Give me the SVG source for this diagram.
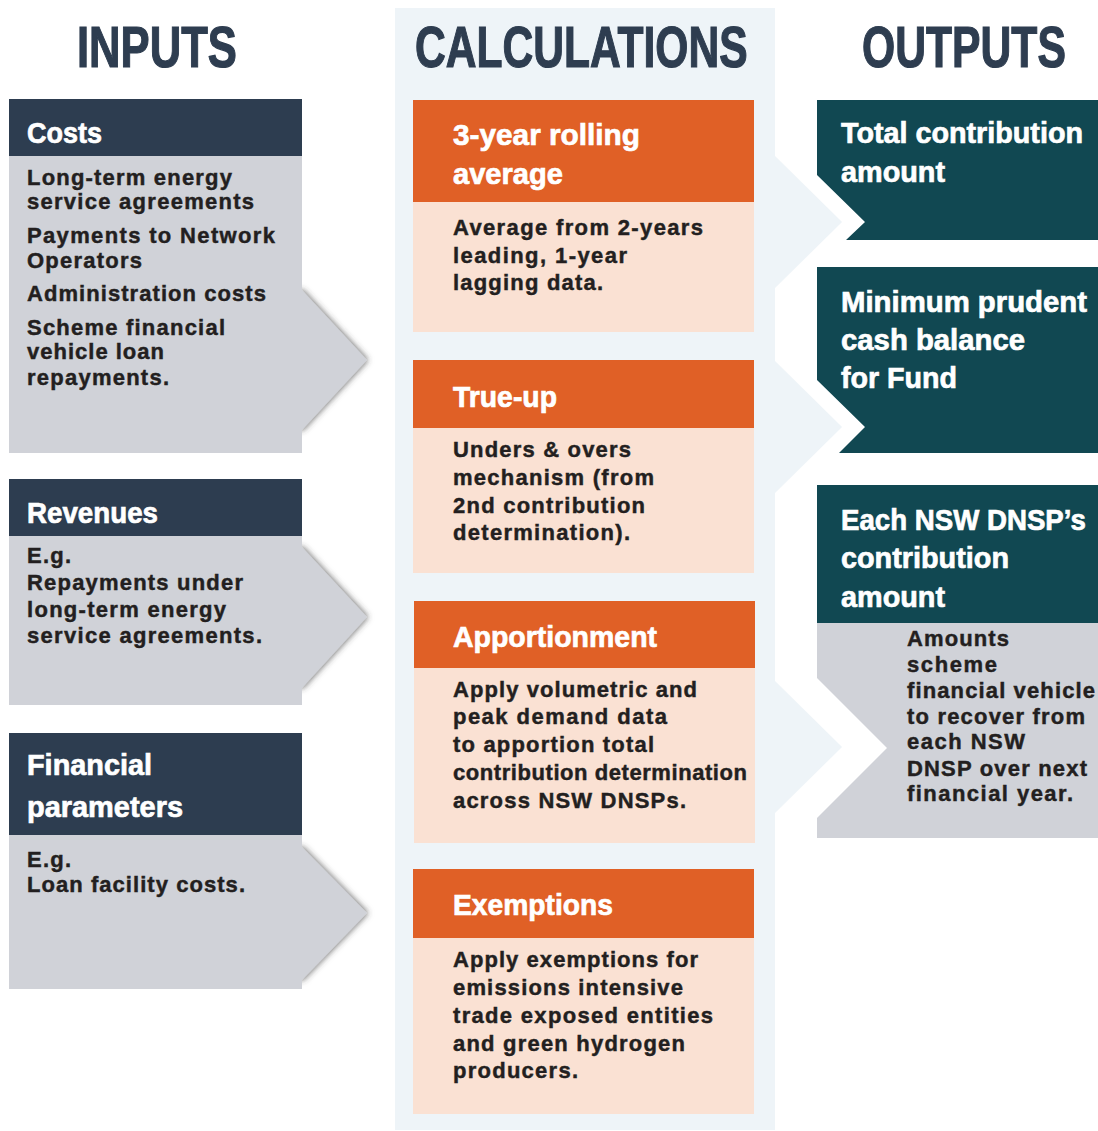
<svg xmlns="http://www.w3.org/2000/svg" width="1098" height="1131" viewBox="0 0 1098 1131">
<defs>
<style>
.title{font-family:"Liberation Sans",Arial,sans-serif;font-weight:bold;font-size:58px;fill:#2e3d50;stroke:#2e3d50;stroke-width:1.2px}
.h{font-family:"Liberation Sans",Arial,sans-serif;font-weight:bold;font-size:30px;fill:#ffffff;stroke:#ffffff;stroke-width:0.7px}
.t{font-family:"Liberation Sans",Arial,sans-serif;font-weight:bold;font-size:22px;fill:#231f20;stroke:#231f20;stroke-width:0.45px}
.navy{fill:#2d3d50}
.gray{fill:#d0d2d8}
.orange{fill:#e06026}
.peach{fill:#fae1d3}
.teal{fill:#114852}
.panel{fill:#eef4f8}
</style>
<filter id="sh" x="-50%" y="-50%" width="200%" height="200%">
<feDropShadow dx="1" dy="0" stdDeviation="3" flood-color="#3a3a3a" flood-opacity="0.75"/>
</filter>
</defs>
<rect width="1098" height="1131" fill="#ffffff"/>

<g id="calc-panel">
<rect class="panel" x="395" y="8" width="380" height="1122"/>
<polygon class="panel" points="774,155 842,222 774,289"/>
<polygon class="panel" points="774,360 842,427 774,494"/>
<polygon class="panel" points="774,680 842,747 774,814"/>
</g>

<g id="titles">
<text class="title" transform="translate(77,67) scale(0.752,1)">INPUTS</text>
<text class="title" transform="translate(415,67) scale(0.734,1)">CALCULATIONS</text>
<text class="title" transform="translate(862,67) scale(0.736,1)">OUTPUTS</text>
</g>

<g id="connectors">
<polygon class="gray" points="290,290 302,290 367,360 302,430 290,430" filter="url(#sh)"/>
<polygon class="gray" points="290,547 302,547 367,617 302,688 290,688" filter="url(#sh)"/>
<polygon class="gray" points="290,847 302,847 367,913 302,980 290,980" filter="url(#sh)"/>
</g>

<g id="costs">
<rect class="gray" x="9" y="156" width="293" height="297"/>
<rect class="navy" x="9" y="99" width="293" height="57"/>
<text class="h" x="27" y="143" textLength="75" lengthAdjust="spacingAndGlyphs">Costs</text>
<text class="t" x="27" y="185" textLength="205" lengthAdjust="spacing">Long-term energy</text>
<text class="t" x="27" y="209" textLength="227" lengthAdjust="spacing">service agreements</text>
<text class="t" x="27" y="243" textLength="248" lengthAdjust="spacing">Payments to Network</text>
<text class="t" x="27" y="268" textLength="115" lengthAdjust="spacing">Operators</text>
<text class="t" x="27" y="301" textLength="239" lengthAdjust="spacing">Administration costs</text>
<text class="t" x="27" y="335" textLength="198" lengthAdjust="spacing">Scheme financial</text>
<text class="t" x="27" y="359" textLength="137" lengthAdjust="spacing">vehicle loan</text>
<text class="t" x="27" y="385" textLength="142" lengthAdjust="spacing">repayments.</text>
</g>

<g id="revenues">
<rect class="gray" x="9" y="536" width="293" height="169"/>
<rect class="navy" x="9" y="479" width="293" height="57"/>
<text class="h" x="27" y="523" textLength="131" lengthAdjust="spacingAndGlyphs">Revenues</text>
<text class="t" x="27" y="563" textLength="44" lengthAdjust="spacing">E.g.</text>
<text class="t" x="27" y="590" textLength="216" lengthAdjust="spacing">Repayments under</text>
<text class="t" x="27" y="617" textLength="199" lengthAdjust="spacing">long-term energy</text>
<text class="t" x="27" y="643" textLength="235" lengthAdjust="spacing">service agreements.</text>
</g>

<g id="financial-parameters">
<rect class="gray" x="9" y="835" width="293" height="154"/>
<rect class="navy" x="9" y="733" width="293" height="102"/>
<text class="h" x="27" y="775" textLength="125" lengthAdjust="spacingAndGlyphs">Financial</text>
<text class="h" x="27" y="817" textLength="156" lengthAdjust="spacingAndGlyphs">parameters</text>
<text class="t" x="27" y="867" textLength="44" lengthAdjust="spacing">E.g.</text>
<text class="t" x="27" y="892" textLength="218" lengthAdjust="spacing">Loan facility costs.</text>
</g>

<g id="rolling-average">
<rect class="orange" x="413" y="100" width="341" height="102"/>
<rect class="peach" x="413" y="202" width="341" height="130"/>
<text class="h" x="453" y="145" textLength="187" lengthAdjust="spacingAndGlyphs">3-year rolling</text>
<text class="h" x="453" y="184" textLength="110" lengthAdjust="spacingAndGlyphs">average</text>
<text class="t" x="453" y="235" textLength="250" lengthAdjust="spacing">Average from 2-years</text>
<text class="t" x="453" y="263" textLength="174" lengthAdjust="spacing">leading, 1-year</text>
<text class="t" x="453" y="290" textLength="150" lengthAdjust="spacing">lagging data.</text>
</g>

<g id="true-up">
<rect class="orange" x="413" y="360" width="341" height="68"/>
<rect class="peach" x="413" y="428" width="341" height="145"/>
<text class="h" x="453" y="407" textLength="104" lengthAdjust="spacingAndGlyphs">True-up</text>
<text class="t" x="453" y="457" textLength="178" lengthAdjust="spacing">Unders &amp; overs</text>
<text class="t" x="453" y="485" textLength="201" lengthAdjust="spacing">mechanism (from</text>
<text class="t" x="453" y="513" textLength="192" lengthAdjust="spacing">2nd contribution</text>
<text class="t" x="453" y="540" textLength="177" lengthAdjust="spacing">determination).</text>
</g>

<g id="apportionment">
<rect class="orange" x="414" y="601" width="341" height="67"/>
<rect class="peach" x="414" y="668" width="341" height="175"/>
<text class="h" x="453" y="647" textLength="204" lengthAdjust="spacingAndGlyphs">Apportionment</text>
<text class="t" x="453" y="697" textLength="244" lengthAdjust="spacing">Apply volumetric and</text>
<text class="t" x="453" y="724" textLength="214" lengthAdjust="spacing">peak demand data</text>
<text class="t" x="453" y="752" textLength="201" lengthAdjust="spacing">to apportion total</text>
<text class="t" x="453" y="780" textLength="294" lengthAdjust="spacing">contribution determination</text>
<text class="t" x="453" y="808" textLength="233" lengthAdjust="spacing">across NSW DNSPs.</text>
</g>

<g id="exemptions">
<rect class="orange" x="413" y="869" width="341" height="69"/>
<rect class="peach" x="413" y="938" width="341" height="176"/>
<text class="h" x="453" y="915" textLength="160" lengthAdjust="spacingAndGlyphs">Exemptions</text>
<text class="t" x="453" y="967" textLength="245" lengthAdjust="spacing">Apply exemptions for</text>
<text class="t" x="453" y="995" textLength="230" lengthAdjust="spacing">emissions intensive</text>
<text class="t" x="453" y="1023" textLength="260" lengthAdjust="spacing">trade exposed entities</text>
<text class="t" x="453" y="1051" textLength="232" lengthAdjust="spacing">and green hydrogen</text>
<text class="t" x="453" y="1078" textLength="125" lengthAdjust="spacing">producers.</text>
</g>

<g id="total-contribution">
<polygon class="teal" points="817,100 1098,100 1098,240 846,240 865,222 817,175"/>
<text class="h" x="841" y="143" textLength="242" lengthAdjust="spacingAndGlyphs">Total contribution</text>
<text class="h" x="841" y="182" textLength="104" lengthAdjust="spacingAndGlyphs">amount</text>
</g>

<g id="minimum-cash-balance">
<polygon class="teal" points="817,267 1098,267 1098,453 839,453 865,427 817,380"/>
<text class="h" x="841" y="312" textLength="246" lengthAdjust="spacingAndGlyphs">Minimum prudent</text>
<text class="h" x="841" y="350" textLength="184" lengthAdjust="spacingAndGlyphs">cash balance</text>
<text class="h" x="841" y="388" textLength="116" lengthAdjust="spacingAndGlyphs">for Fund</text>
</g>

<g id="dnsp-contribution">
<rect class="teal" x="817" y="485" width="281" height="138"/>
<polygon class="gray" points="817,623 1098,623 1098,838 817,838 817,818 887,748 817,678"/>
<text class="h" transform="translate(841,530) scale(0.922,1)">Each NSW DNSP’s</text>
<text class="h" x="841" y="568" textLength="168" lengthAdjust="spacingAndGlyphs">contribution</text>
<text class="h" x="841" y="607" textLength="104" lengthAdjust="spacingAndGlyphs">amount</text>
<text class="t" x="907" y="646" textLength="102" lengthAdjust="spacing">Amounts</text>
<text class="t" x="907" y="672" textLength="90" lengthAdjust="spacing">scheme</text>
<text class="t" x="907" y="698" textLength="188" lengthAdjust="spacing">financial vehicle</text>
<text class="t" x="907" y="724" textLength="178" lengthAdjust="spacing">to recover from</text>
<text class="t" x="907" y="749" textLength="118" lengthAdjust="spacing">each NSW</text>
<text class="t" x="907" y="776" textLength="180" lengthAdjust="spacing">DNSP over next</text>
<text class="t" x="907" y="801" textLength="166" lengthAdjust="spacing">financial year.</text>
</g>
</svg>
